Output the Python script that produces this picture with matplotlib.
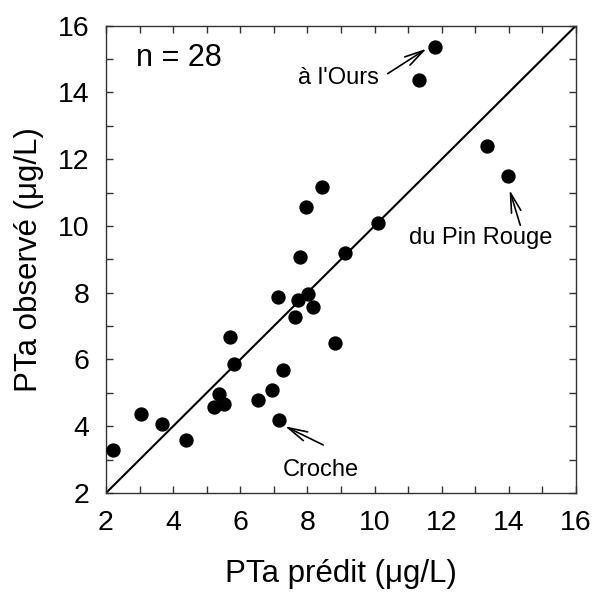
import matplotlib
matplotlib.use("Agg")
import matplotlib.pyplot as plt
import numpy as np

plt.rcParams['font.family'] = ['Liberation Sans', 'DejaVu Sans']

predicted = [2.2, 3.04, 3.67, 4.39, 5.22, 5.36, 5.52, 5.69, 5.8, 6.52, 6.95, 7.26, 7.16, 7.13,
             7.71, 7.62, 8.03, 8.17, 8.82, 8.44, 7.95, 7.79, 9.12, 10.1, 11.79, 11.33, 13.36, 13.97]
observed = [3.29, 4.38, 4.07, 3.58, 4.57, 4.98, 4.68, 6.68, 5.87, 4.78, 5.08, 5.68, 4.18, 7.88,
            7.77, 7.27, 7.97, 7.57, 6.48, 11.17, 10.58, 9.07, 9.18, 10.09, 15.37, 14.38, 12.38, 11.49]
ticks = [2, 4, 6, 8, 10, 12, 14, 16]
n_label = "n = 28"
xlabel = "PTa prédit (μg/L)"
ylabel = "PTa observé (μg/L)"

annotations = [
    ("à l'Ours", (11.55, 15.31), (10.39, 14.56), (8.93, 14.43), 'center'),
    ("du Pin Rouge", (14.02, 11.08), (14.34, 10.02), (13.16, 9.63), 'center'),
    ("Croche", (7.33, 4.0), (8.47, 3.44), (8.41, 2.69), 'center'),
]

fig = plt.figure(figsize=(5.92, 5.95), dpi=100)
ax = fig.add_axes([0.179, 0.1714, 0.794, 0.7856])

ax.plot([2, 16], [2, 16], color='black', lw=1.5, zorder=2)
ax.plot(predicted, observed, 'o', color='black', markersize=9.3, zorder=3)

for text, tip, tail, tpos, ha in annotations:
    ax.annotate('', xy=tip, xytext=tail,
                arrowprops=dict(arrowstyle='->,head_length=1.4,head_width=0.35', color='black', lw=1.2,
                                shrinkA=0, shrinkB=0))
    ax.text(tpos[0], tpos[1], text, fontsize=17, ha=ha, va='center')

ax.text(4.17, 15.04, n_label, fontsize=22, ha='center', va='center')

ax.set_xlim(2, 16)
ax.set_ylim(2, 16)
ax.set_xticks(ticks)
ax.set_yticks(ticks)
ax.set_xticks(np.arange(2, 17, 1), minor=True)
ax.set_yticks(np.arange(2, 17, 1), minor=True)
ax.tick_params(which='both', direction='in', top=True, right=True, length=5, width=1,
               color='#333333', labelsize=20.5, pad=12)
for s in ax.spines.values():
    s.set_color('#333333')
    s.set_linewidth(1)

ax.set_xlabel(xlabel, fontsize=22.5, labelpad=17)
ax.set_ylabel(ylabel, fontsize=22.5, labelpad=10)

fig.savefig('out.png', dpi=100)
